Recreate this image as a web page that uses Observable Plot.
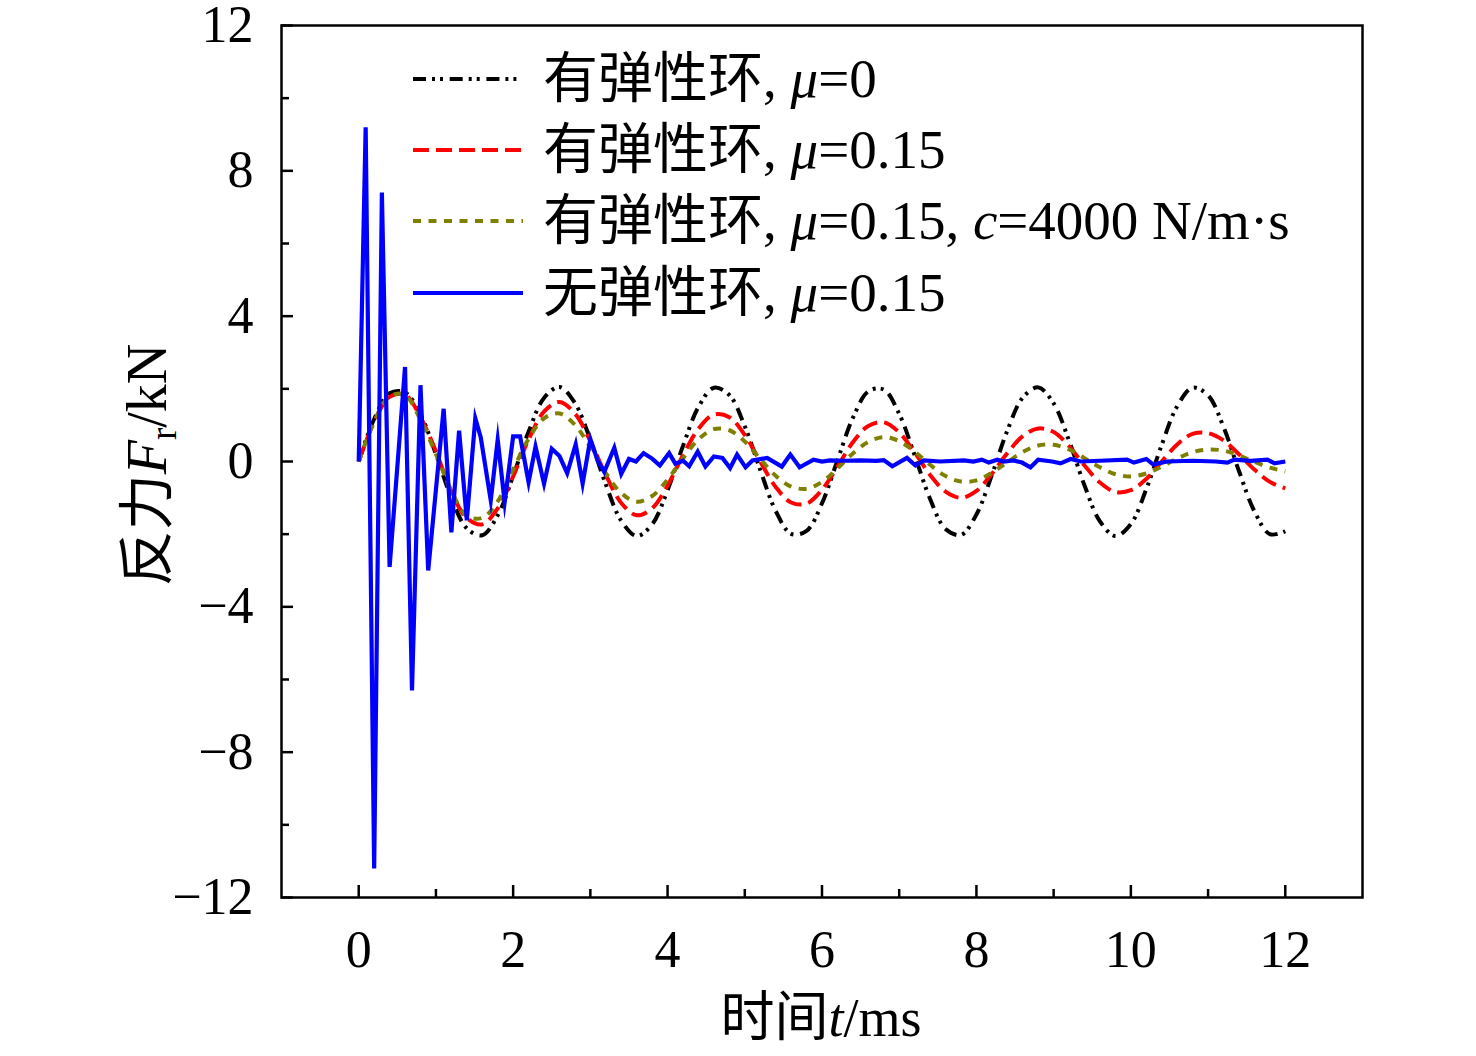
<!DOCTYPE html>
<html><head><meta charset="utf-8">
<script src="https://cdn.jsdelivr.net/npm/d3@7"></script>
<script src="https://cdn.jsdelivr.net/npm/@observablehq/plot@0.6"></script>
<style>body{margin:0;background:#fff}#chart svg{display:block}</style>
</head><body><div id="chart"></div>
<script>
// ---- data ----
const times = [0,0.2,0.4,0.6,0.8,1.0,1.2,1.4,1.6,1.8,2.0,2.2,2.4,2.6,2.8,3.0,3.2,3.4,3.6,3.8,4.0,4.2,4.4,4.6,4.8,5.0,5.2,5.4,5.6,5.8,6.0,6.2,6.4,6.6,6.8,7.0,7.2,7.4,7.6,7.8,8.0,8.2,8.4,8.6,8.8,9.0,9.2,9.4,9.6,9.8,10.0,10.2,10.4,10.6,10.8,11.0,11.2,11.4,11.6,11.8,12.0];
const elasticMu0 = [0,1.17,1.88,1.9,1.3,0.2,-1.0,-1.84,-2.03,-1.48,-0.4,0.82,1.75,2.05,1.61,0.6,-0.63,-1.63,-2.05,-1.73,-0.79,0.43,1.5,2.03,1.83,0.97,-0.23,-1.36,-1.99,-1.91,-1.15,0.03,1.2,1.93,1.98,1.31,0.17,-1.03,-1.86,-2.02,-1.46,-0.37,0.85,1.76,2.04,1.6,0.57,-0.66,-1.65,-2.05,-1.72,-0.76,0.46,1.52,2.03,1.82,0.95,-0.26,-1.37,-2.0,-1.92];
const elasticMu015 = [0,1.09,1.78,1.84,1.22,0.28,-0.83,-1.56,-1.73,-1.29,-0.41,0.6,1.37,1.64,1.32,0.56,-0.37,-1.14,-1.48,-1.29,-0.66,0.17,0.9,1.29,1.22,0.73,0.0,-0.7,-1.13,-1.16,-0.78,-0.14,0.53,0.98,1.08,0.8,0.25,-0.37,-0.83,-1.0,-0.81,-0.34,0.23,0.7,0.91,0.81,0.42,-0.11,-0.58,-0.84,-0.79,-0.48,0.0,0.47,0.76,0.78,0.58,0.2,-0.22,-0.56,-0.74];
const elasticDamped = [0,1.09,1.8,1.82,1.15,0.2,-0.8,-1.5,-1.55,-1.1,-0.22,0.62,1.19,1.32,1.01,0.39,-0.32,-0.87,-1.11,-0.95,-0.5,0.09,0.61,0.89,0.86,0.55,0.07,-0.39,-0.69,-0.75,-0.56,-0.19,0.22,0.54,0.67,0.56,0.27,-0.09,-0.4,-0.55,-0.52,-0.31,-0.02,0.26,0.44,0.46,0.33,0.09,-0.16,-0.35,-0.41,-0.33,-0.14,0.08,0.26,0.33,0.3,0.17,-0.01,-0.17,-0.27];
const rigidTimes = [0,0.09,0.2,0.3,0.4,0.6,0.69,0.8,0.9,1.1,1.2,1.3,1.4,1.51,1.58,1.71,1.8,1.89,2.0,2.09,2.2,2.29,2.4,2.5,2.6,2.7,2.81,2.9,3.0,3.09,3.18,3.31,3.4,3.5,3.59,3.69,3.8,3.9,4.02,4.1,4.2,4.28,4.39,4.49,4.6,4.71,4.81,4.9,5.01,5.1,5.29,5.48,5.59,5.71,5.89,6.0,6.1,6.3,6.5,6.7,6.8,6.91,7.1,7.21,7.32,7.53,7.84,7.96,8.07,8.16,8.27,8.35,8.48,8.59,8.7,8.8,8.98,9.09,9.22,9.35,9.6,9.95,10.04,10.2,10.29,10.47,10.8,11.1,11.25,11.34,11.55,11.77,11.86,12.0];
const rigidMu015 = [0,9.2,-11.2,7.4,-2.9,2.6,-6.3,2.1,-3.0,1.45,-1.95,0.85,-1.62,1.19,0.67,-1.07,0.6,-1.12,0.69,0.69,-0.57,0.41,-0.61,0.35,0.15,-0.32,0.47,-0.61,0.62,0.05,-0.29,0.38,-0.34,0.07,0.0,0.23,0.08,-0.11,0.23,-0.06,0.02,-0.13,0.27,-0.14,0.14,0.1,-0.18,0.19,-0.16,0.03,0.1,-0.14,0.19,-0.16,0.05,0.0,0.03,0.02,0.03,0.02,0.04,-0.13,0.1,-0.11,0.03,0.0,0.03,0.0,0.05,-0.03,0.05,0.0,0.03,-0.03,-0.16,0.05,0.0,-0.05,0.07,0.0,0.02,0.05,-0.03,0.07,-0.08,0.0,0.02,0.0,-0.03,0.05,0.02,0.05,-0.05,0.0];
const seriesNames = ["有弹性环, μ=0","有弹性环, μ=0.15","有弹性环, μ=0.15, c=4000 N/m·s","无弹性环, μ=0.15"];
const xMajorTicks = [0,2,4,6,8,10,12];
const xMinorTicks = [1,3,5,7,9,11];
const yMajorTicks = [-12,-8,-4,0,4,8,12];
const yMinorTicks = [-10,-6,-2,2,6,10];
const xTitle = ["时间", "t", "/ms"];
const yTitle = ["反力", "F", "r", "/kN"];

// ---- styles ----
const styles = [
  {stroke: "#000000", width: 4, dash: "13,6,3,5,3,6.7"},
  {stroke: "#ff0000", width: 4, dash: "16,7"},
  {stroke: "#808000", width: 4, dash: "8,7.5"},
  {stroke: "#0000ff", width: 4.2, dash: null}
];

const smoothSeries = [elasticMu0, elasticMu015, elasticDamped].map(vals => times.map((t, i) => ({t, f: vals[i]})));
const rigidSeries = rigidTimes.map((t, i) => ({t, f: rigidMu015[i]}));
const allSeries = [...smoothSeries, rigidSeries];

const fmt = d => d < 0 ? "\u2212" + Math.abs(d) : String(d);
const FONT = "'Liberation Serif', 'Noto Sans CJK SC', serif";

const plot = Plot.plot({
  width: 1476, height: 1056,
  marginLeft: 281, marginRight: 114, marginTop: 25, marginBottom: 159,
  style: {fontFamily: FONT, fontSize: "52px", color: "black", background: "white"},
  x: {domain: [-1, 13], label: null},
  y: {domain: [-12, 12], label: null},
  marks: [
    Plot.axisX(xMajorTicks, {tickSize: -12, tickPadding: 45, strokeWidth: 2.5, tickFormat: fmt, fontSize: 52}),
    Plot.axisX(xMinorTicks, {tickSize: -8, strokeWidth: 2.5, tickFormat: () => ""}),
    Plot.axisY(yMajorTicks, {tickSize: -12, tickPadding: 40, strokeWidth: 2.5, tickFormat: fmt, fontSize: 52}),
    Plot.axisY(yMinorTicks, {tickSize: -8, strokeWidth: 2.5, tickFormat: () => ""}),
    ...allSeries.map((data, i) => Plot.line(data, {
      x: "t", y: "f", stroke: styles[i].stroke, strokeWidth: styles[i].width,
      strokeDasharray: styles[i].dash, curve: i < 3 ? "catmull-rom" : "linear",
      strokeLinejoin: "miter", strokeMiterlimit: 10, strokeLinecap: "butt"
    })),
    Plot.frame({stroke: "black", strokeWidth: 2.5})
  ]
});
document.getElementById("chart").appendChild(plot);

const svg = d3.select(plot);

// legend
const leg = svg.append("g").attr("font-family", FONT).attr("font-size", 55).attr("text-anchor", "start");
const rowY = [79, 150, 221, 293];
seriesNames.forEach((name, i) => {
  const y = rowY[i];
  leg.append("line").attr("x1", 413).attr("x2", 523).attr("y1", y).attr("y2", y)
    .attr("stroke", styles[i].stroke).attr("stroke-width", styles[i].width)
    .attr("stroke-dasharray", styles[i].dash);
  const t = leg.append("text").attr("x", 543).attr("y", y + 18).attr("text-anchor", "start");
  name.split(/(μ|c(?==))/).filter(s => s.length).forEach(part => {
    const ts = t.append("tspan").text(part);
    if (part === "μ" || part === "c") ts.attr("font-style", "italic");
  });
});

// x title
const xt = svg.append("text").attr("font-family", FONT).attr("font-size", 54)
  .attr("x", 821).attr("y", 1036).attr("text-anchor", "middle");
xt.append("tspan").text(xTitle[0]);
xt.append("tspan").attr("font-style", "italic").text(xTitle[1]);
xt.append("tspan").text(xTitle[2]);

// y title
const yt = svg.append("text").attr("font-family", FONT).attr("font-size", 56)
  .attr("text-anchor", "middle").attr("transform", "translate(166,465) rotate(-90)");
yt.append("tspan").text(yTitle[0]);
yt.append("tspan").attr("font-style", "italic").text(yTitle[1]);
yt.append("tspan").attr("font-size", 37).attr("dy", 10).text(yTitle[2]);
yt.append("tspan").attr("dy", -10).text(yTitle[3]);
</script>
</body></html>
